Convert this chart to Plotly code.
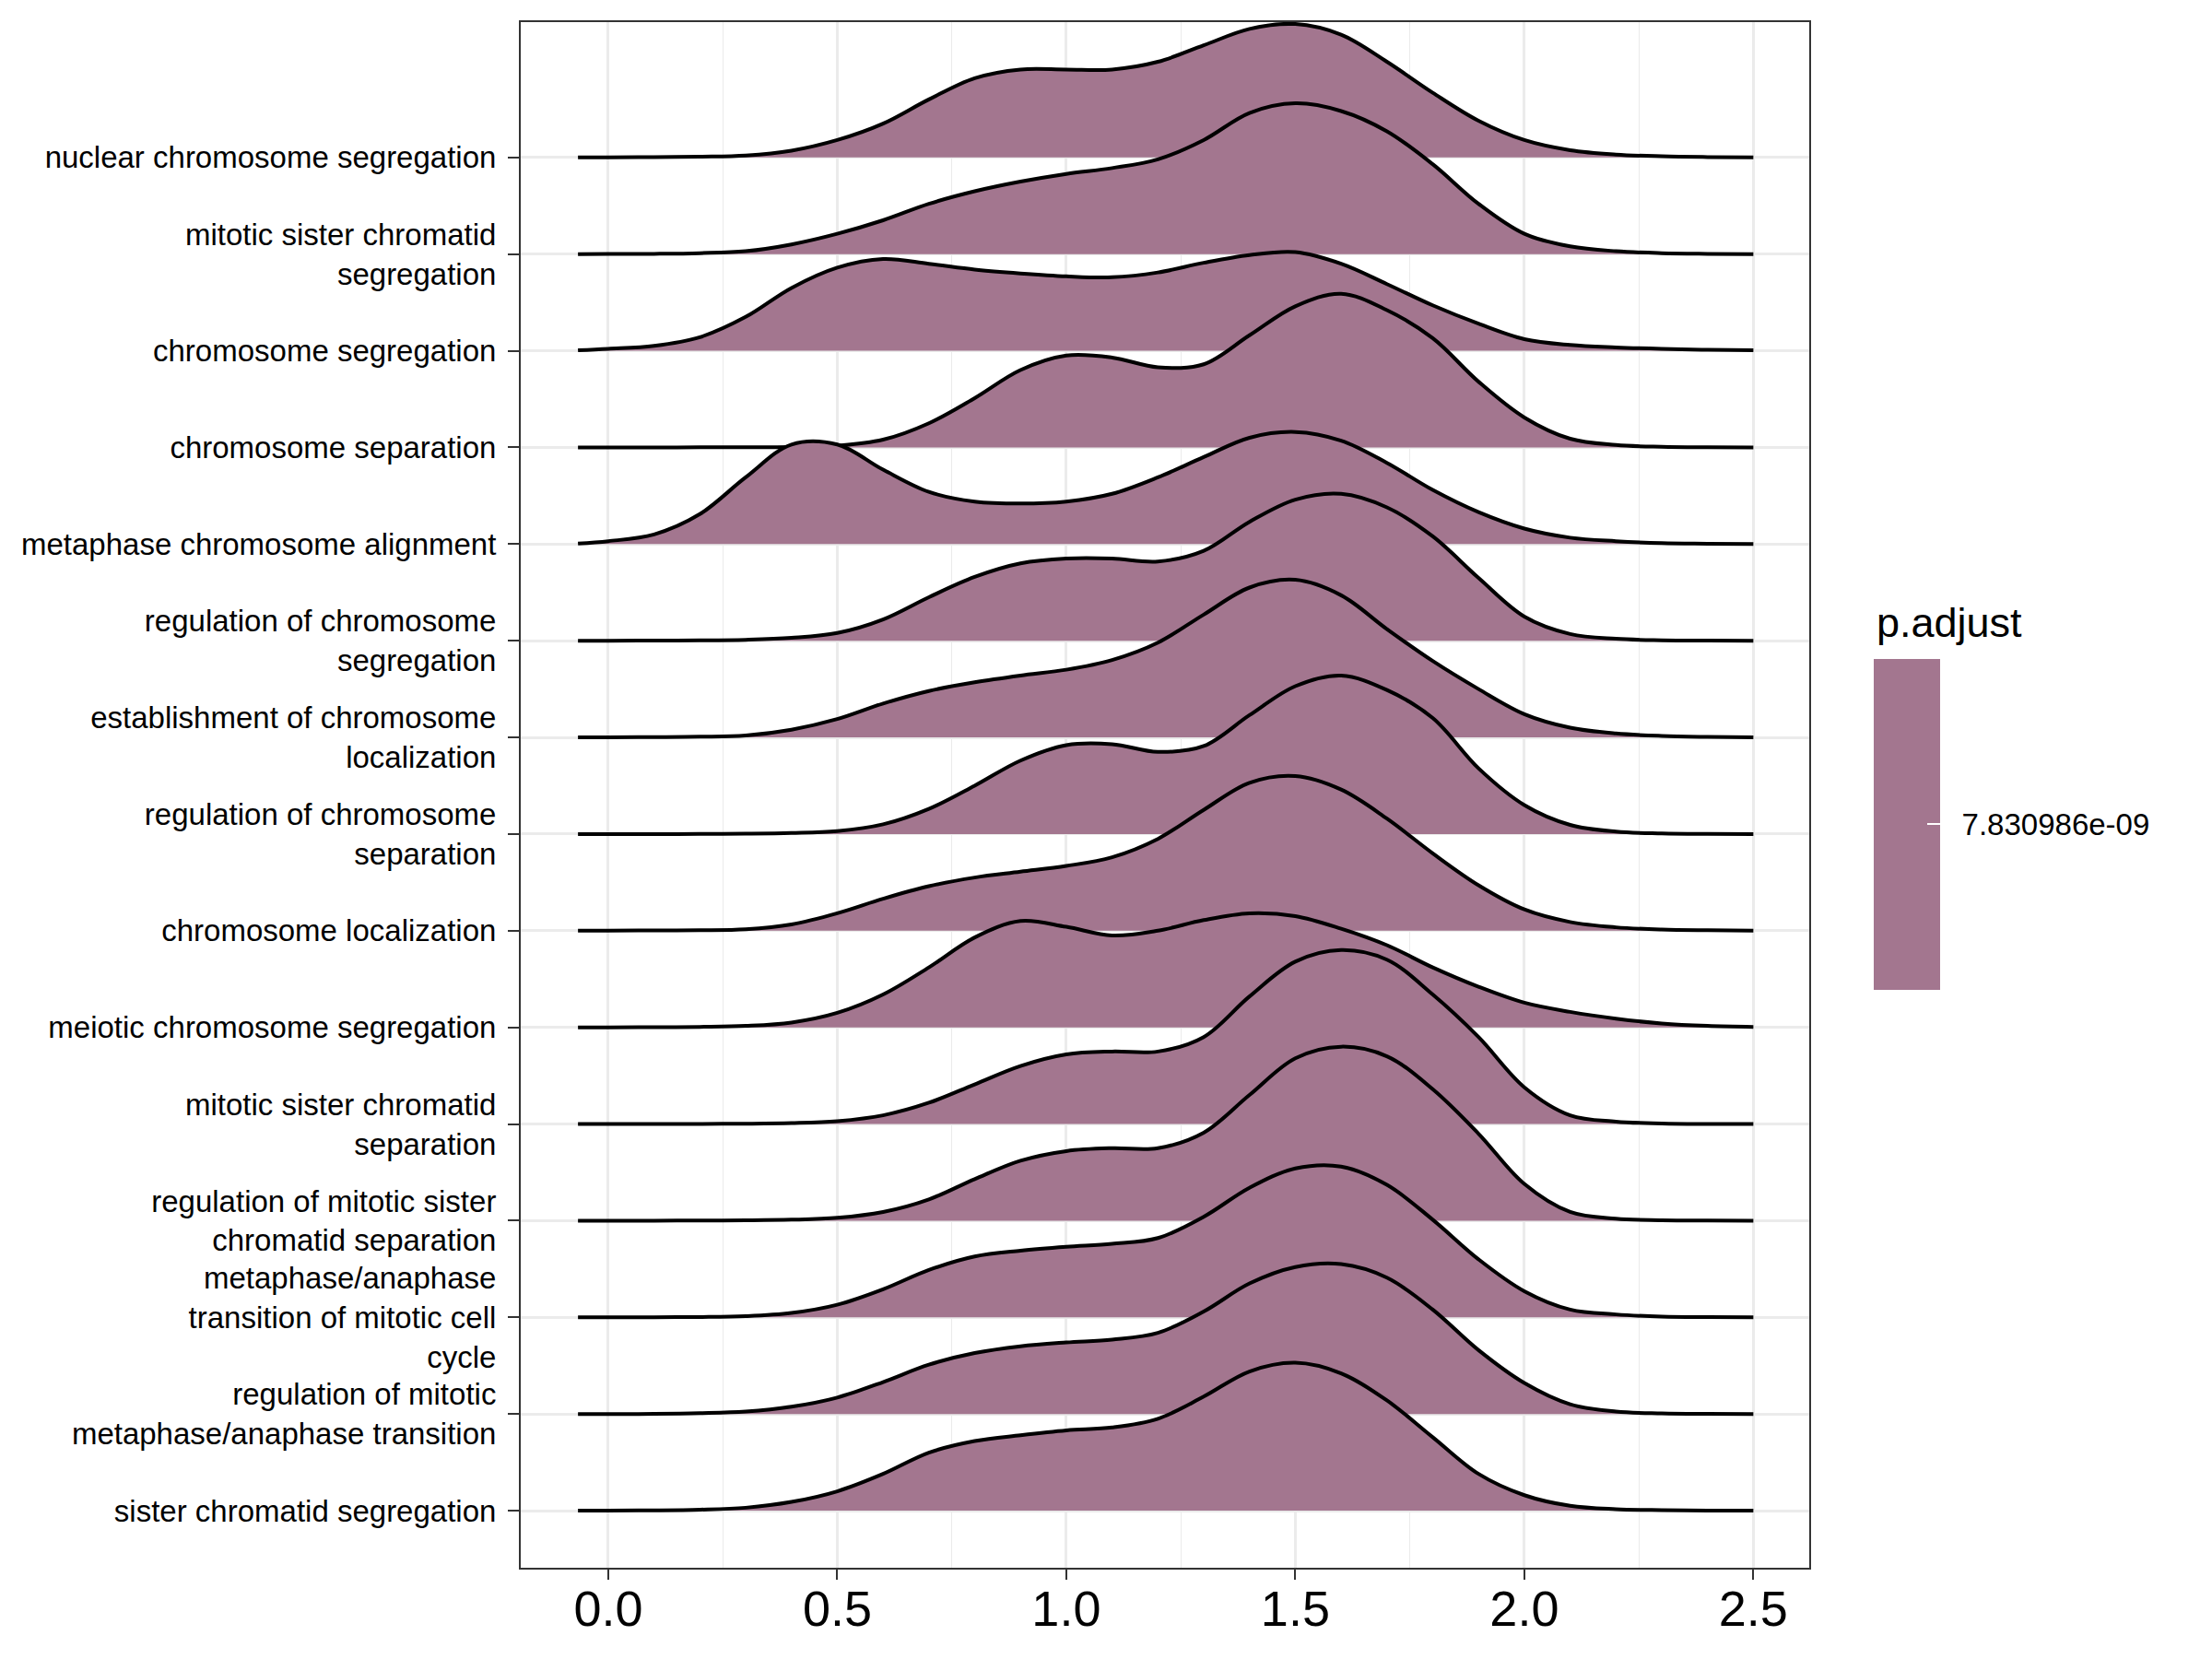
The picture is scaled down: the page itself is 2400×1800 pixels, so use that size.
import plotly.graph_objects as go

# GO terms, bottom row first
terms = [
    "sister chromatid segregation",
    "regulation of mitotic<br>metaphase/anaphase transition",
    "metaphase/anaphase<br>transition of mitotic cell<br>cycle",
    "regulation of mitotic sister<br>chromatid separation",
    "mitotic sister chromatid<br>separation",
    "meiotic chromosome segregation",
    "chromosome localization",
    "regulation of chromosome<br>separation",
    "establishment of chromosome<br>localization",
    "regulation of chromosome<br>segregation",
    "metaphase chromosome alignment",
    "chromosome separation",
    "chromosome segregation",
    "mitotic sister chromatid<br>segregation",
    "nuclear chromosome segregation",
]

grid_x = [-0.066, 0.0, 0.1, 0.2, 0.3, 0.4, 0.5, 0.6, 0.7, 0.8, 0.9, 1.0, 1.1, 1.2,
          1.3, 1.4, 1.5, 1.6, 1.7, 1.8, 1.9, 2.0, 2.1, 2.2, 2.3, 2.4, 2.5]

# ridge heights (in row units), same order as terms
sister_seg = [0, 0.001, 0.003, 0.01, 0.03, 0.09, 0.2, 0.38, 0.6, 0.72, 0.78, 0.83, 0.86, 0.95,
              1.18, 1.44, 1.53, 1.42, 1.14, 0.76, 0.38, 0.16, 0.05, 0.015, 0.005, 0.001, 0]
reg_mit_meta = [0, 0, 0.001, 0.008, 0.025, 0.075, 0.17, 0.33, 0.51, 0.63, 0.7, 0.74, 0.77, 0.84,
                1.06, 1.35, 1.52, 1.55, 1.41, 1.08, 0.66, 0.32, 0.1, 0.025, 0.006, 0.001, 0]
meta_ana = [0, 0, 0.001, 0.003, 0.012, 0.045, 0.13, 0.29, 0.49, 0.63, 0.69, 0.73, 0.76, 0.82,
            1.04, 1.34, 1.54, 1.56, 1.37, 1.01, 0.6, 0.27, 0.08, 0.03, 0.008, 0.002, 0]
reg_mit_sis_sep = [0, 0, 0, 0.001, 0.003, 0.01, 0.03, 0.09, 0.22, 0.43, 0.62, 0.72, 0.75, 0.75,
                   0.91, 1.3, 1.68, 1.8, 1.7, 1.36, 0.9, 0.38, 0.09, 0.02, 0.005, 0.001, 0]
mit_sis_sep = [0, 0, 0, 0.001, 0.003, 0.01, 0.03, 0.09, 0.22, 0.41, 0.6, 0.72, 0.75, 0.75,
               0.9, 1.32, 1.68, 1.8, 1.7, 1.34, 0.9, 0.38, 0.09, 0.025, 0.006, 0.001, 0]
meiotic_seg = [0, 0, 0.001, 0.005, 0.015, 0.05, 0.15, 0.34, 0.62, 0.93, 1.1, 1.04, 0.95, 1.0,
               1.11, 1.18, 1.15, 1.02, 0.85, 0.62, 0.42, 0.255, 0.16, 0.09, 0.04, 0.015, 0.005]
chrom_loc = [0, 0.001, 0.003, 0.005, 0.015, 0.065, 0.18, 0.33, 0.46, 0.55, 0.61, 0.67, 0.76, 0.95,
             1.25, 1.53, 1.6, 1.46, 1.16, 0.8, 0.47, 0.22, 0.09, 0.035, 0.012, 0.004, 0]
reg_chrom_sep = [0, 0, 0, 0.001, 0.003, 0.01, 0.03, 0.1, 0.26, 0.5, 0.76, 0.92, 0.93, 0.85,
                 0.91, 1.23, 1.53, 1.64, 1.49, 1.2, 0.68, 0.3, 0.095, 0.025, 0.006, 0.001, 0]
estab_chrom_loc = [0, 0.001, 0.003, 0.007, 0.02, 0.08, 0.19, 0.35, 0.48, 0.57, 0.64, 0.7, 0.8, 0.98,
                   1.27, 1.55, 1.63, 1.47, 1.12, 0.79, 0.5, 0.24, 0.1, 0.04, 0.015, 0.005, 0]
reg_chrom_seg = [0, 0, 0.001, 0.003, 0.01, 0.03, 0.08, 0.22, 0.45, 0.66, 0.8, 0.85, 0.85, 0.82,
                 0.93, 1.23, 1.46, 1.52, 1.38, 1.08, 0.65, 0.25, 0.07, 0.02, 0.005, 0.001, 0]
meta_align = [0.005, 0.03, 0.1, 0.31, 0.69, 1.03, 1.03, 0.77, 0.54, 0.44, 0.42, 0.44, 0.52, 0.69,
              0.9, 1.1, 1.16, 1.07, 0.84, 0.56, 0.33, 0.16, 0.066, 0.03, 0.01, 0.004, 0]
chrom_sep = [0, 0, 0, 0.001, 0.002, 0.005, 0.018, 0.08, 0.25, 0.51, 0.8, 0.95, 0.93, 0.83,
             0.86, 1.16, 1.46, 1.59, 1.42, 1.13, 0.68, 0.31, 0.09, 0.025, 0.006, 0.001, 0]
chrom_seg = [0.005, 0.02, 0.05, 0.14, 0.35, 0.65, 0.86, 0.95, 0.9, 0.84, 0.8, 0.77, 0.76, 0.81,
             0.91, 0.99, 1.02, 0.9, 0.69, 0.47, 0.28, 0.12, 0.06, 0.035, 0.02, 0.01, 0.005]
mit_sis_seg = [0, 0.001, 0.003, 0.01, 0.03, 0.1, 0.21, 0.35, 0.52, 0.65, 0.75, 0.83, 0.89, 0.98,
               1.18, 1.46, 1.56, 1.48, 1.27, 0.93, 0.52, 0.21, 0.08, 0.03, 0.01, 0.003, 0]
nuclear_seg = [0, 0.001, 0.003, 0.008, 0.02, 0.07, 0.18, 0.35, 0.6, 0.82, 0.91, 0.91, 0.91, 0.99,
               1.16, 1.33, 1.38, 1.27, 0.99, 0.67, 0.38, 0.18, 0.075, 0.03, 0.012, 0.004, 0]

ridges = [sister_seg, reg_mit_meta, meta_ana, reg_mit_sis_sep, mit_sis_sep, meiotic_seg,
          chrom_loc, reg_chrom_sep, estab_chrom_loc, reg_chrom_seg, meta_align, chrom_sep,
          chrom_seg, mit_sis_seg, nuclear_seg]

p_adjust = 7.830986e-09
p_label = "7.830986e-09"

x_ticks = [0, 0.5, 1.0, 1.5, 2.0, 2.5]
x_labels = ["0.0", "0.5", "1.0", "1.5", "2.0", "2.5"]

fill_col = "#A3768F"
grid_col = "#EBEBEB"
border_col = "#333333"
font_fam = "Liberation Sans, Arial, sans-serif"

fig = go.Figure()

# draw from the top row down so lower ridges sit over the ones above
for row in range(len(terms), 0, -1):
    dens = ridges[row - 1]
    fig.add_trace(go.Scatter(
        x=[grid_x[0], grid_x[-1]], y=[row, row],
        mode="lines", line=dict(width=0, color=fill_col),
        hoverinfo="skip", showlegend=False))
    fig.add_trace(go.Scatter(
        x=grid_x, y=[row + h for h in dens],
        mode="lines", line=dict(color="black", width=4, shape="spline", smoothing=1),
        fill="tonexty", fillcolor=fill_col,
        name=terms[row - 1].replace("<br>", " "), showlegend=False))

# colour bar for p.adjust (a single value, so one flat colour)
fig.add_trace(go.Scatter(
    x=[1.0], y=[1], mode="markers", hoverinfo="skip", showlegend=False,
    marker=dict(
        size=1, opacity=0, color=[p_adjust],
        colorscale=[[0, fill_col], [1, fill_col]],
        cmin=p_adjust - 1e-9, cmax=p_adjust + 1e-9,
        showscale=True,
        colorbar=dict(
            xref="container", yref="container",
            x=2033 / 2400, xanchor="left",
            y=1 - 767 / 1800, yanchor="top",
            len=359, lenmode="pixels",
            thickness=72, thicknessmode="pixels",
            xpad=0, ypad=0, outlinewidth=0,
            tickvals=[p_adjust], ticktext=["\u2002" + p_label],
            ticks="inside", ticklen=14, tickwidth=1.5, tickcolor="white",
            tickfont=dict(size=33, color="black", family=font_fam),
        ),
    )))

fig.update_xaxes(
    range=[-0.191, 2.622],
    tickvals=x_ticks, ticktext=x_labels,
    tickfont=dict(size=54, color="black", family=font_fam),
    ticks="outside", ticklen=11, tickwidth=2, tickcolor=border_col,
    ticklabelstandoff=-15,
    showgrid=True, gridcolor=grid_col, gridwidth=2.5,
    minor=dict(dtick=0.25, tick0=0, showgrid=True, gridcolor=grid_col, gridwidth=1.3, ticks=""),
    showline=True, mirror=True, linecolor=border_col, linewidth=2,
    zeroline=False,
)
fig.update_yaxes(
    range=[0.409, 16.40],
    tickvals=list(range(1, len(terms) + 1)), ticktext=terms,
    tickfont=dict(size=33, color="black", family=font_fam),
    ticks="outside", ticklen=12, tickwidth=2, tickcolor=border_col,
    ticklabelstandoff=6,
    showgrid=True, gridcolor=grid_col, gridwidth=2.5,
    showline=True, mirror=True, linecolor=border_col, linewidth=2,
    zeroline=False,
)

fig.update_layout(
    width=2400, height=1800,
    margin=dict(l=565, r=437, t=24, b=99),
    plot_bgcolor="white", paper_bgcolor="white",
    font=dict(family=font_fam, color="black"),
    showlegend=False,
    annotations=[dict(
        text="p.adjust", xref="paper", yref="paper",
        x=(2034 - 565) / 1398, y=(1701 - 676) / 1677,
        xanchor="left", yanchor="middle", showarrow=False,
        font=dict(size=45, color="black", family=font_fam))],
    # the left-hand white tick of the colour bar (the colour bar only draws the right one)
    shapes=[dict(
        type="line", xref="paper", yref="paper", layer="above",
        x0=(2033 - 565) / 1398, x1=(2047 - 565) / 1398,
        y0=(1701 - 894.5) / 1677, y1=(1701 - 894.5) / 1677,
        line=dict(color="white", width=1.5))],
)

# drop the browser's default page margin so the figure sits at the top-left corner
fig.write_html("out.html", config={"displayModeBar": False},
               post_script="document.body.style.margin='0';")
